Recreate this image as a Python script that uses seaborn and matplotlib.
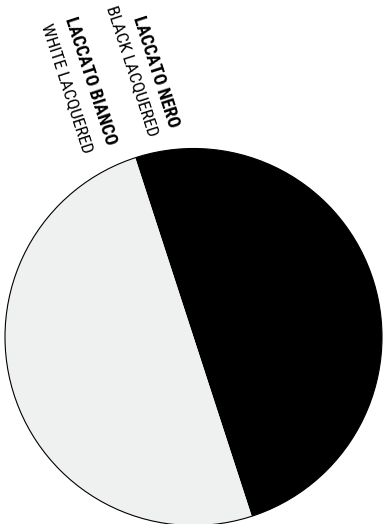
import matplotlib
matplotlib.use("Agg")
import matplotlib.pyplot as plt
import seaborn as sns
from matplotlib import font_manager as fm

sns.set_theme(style="white")

# data
labels_it = ["LACCATO NERO", "LACCATO BIANCO"]
labels_en = ["BLACK LACQUERED", "WHITE LACQUERED"]
values = [50, 50]
colors = ["#000000", "#eff0f0"]

names = {f.name for f in fm.fontManager.ttflist}
fam = [f for f in ["Liberation Sans Narrow", "Roboto Condensed", "DejaVu Sans Condensed", "Roboto", "DejaVu Sans"] if f in names]
plt.rcParams["font.family"] = fam

W, H = 385, 524
fig = plt.figure(figsize=(W / 100, H / 100), dpi=100)
ax = fig.add_axes([0, 0, 1, 1])

cx, cy, r = 193.5, 337.0, 188.5
ax.pie(values, colors=colors, startangle=108, counterclock=False,
       wedgeprops=dict(edgecolor="none"))
circle = plt.Circle((0, 0), 1, fill=False, edgecolor="black", linewidth=0.8)
ax.add_patch(circle)
ax.set_xlim(-cx / r, (W - cx) / r)
ax.set_ylim(-(H - cy) / r, cy / r)
ax.set_aspect("auto")
ax.axis("off")

rot = -72
# label end anchors (data units relative to pie centre, radius 1)
pos_it = [(-0.103, 1.114), (-0.435, 1.019)]
pos_en = [(-0.215, 1.066), (-0.560, 0.976)]
for (x, y), t in zip(pos_it, labels_it):
    ax.text(x, y, t, rotation=rot, rotation_mode="anchor", ha="right", va="center",
            fontsize=13.0, fontweight="bold", color="black")
for (x, y), t in zip(pos_en, labels_en):
    ax.text(x, y, t, rotation=rot, rotation_mode="anchor", ha="right", va="center",
            fontsize=12.6, fontweight="normal", color="black")

fig.savefig("out.png", dpi=100)
